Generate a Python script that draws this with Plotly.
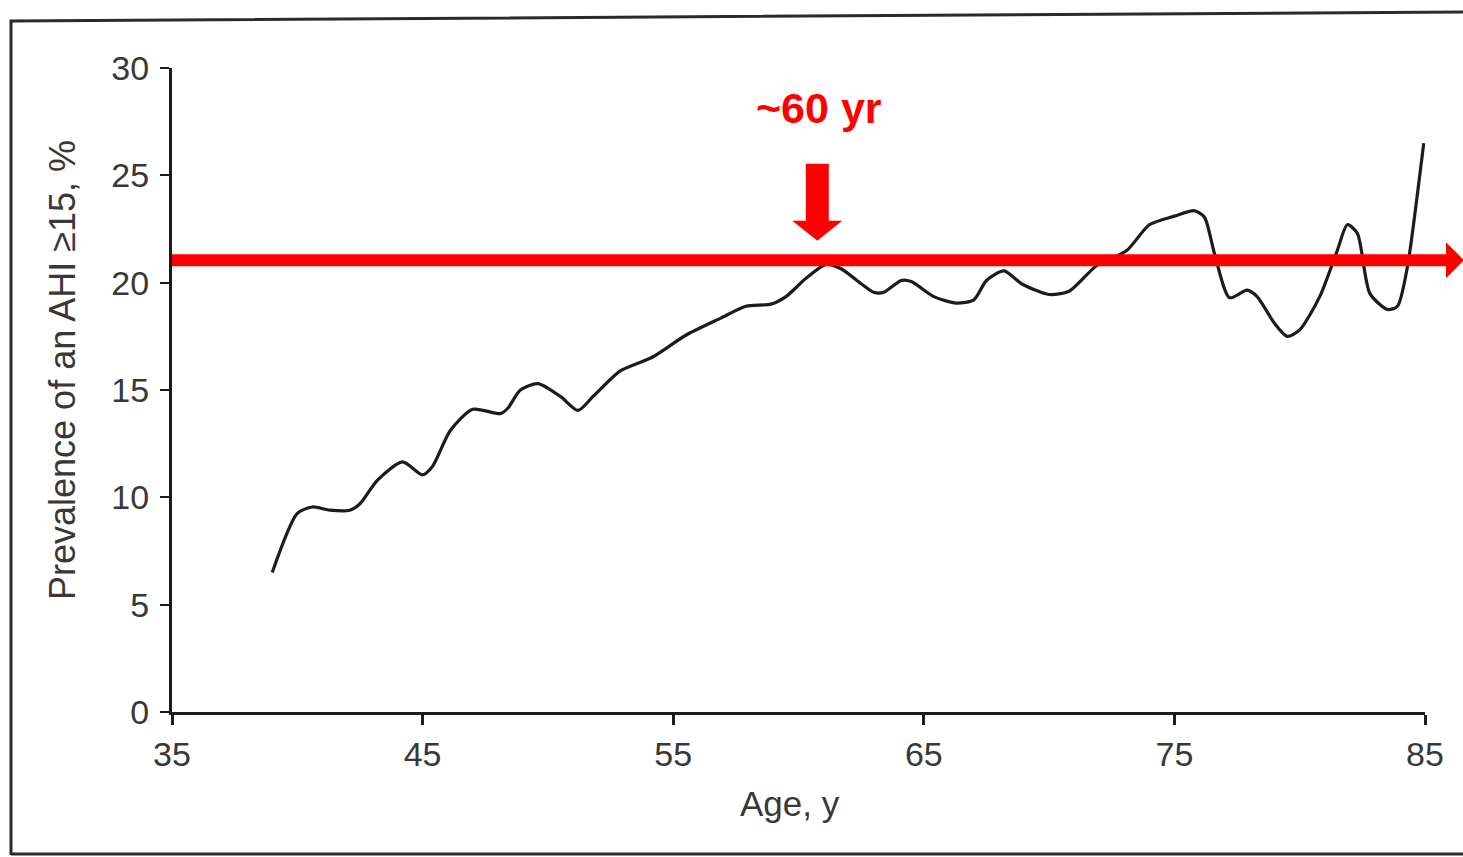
import plotly.graph_objects as go

# ---- data ----
age = [39.0, 40.0, 40.6, 41.3, 42.1, 42.5, 43.2, 44.2, 45.0, 45.4, 46.1, 47.0,
       48.1, 48.4, 48.9, 49.6, 50.5, 51.2, 51.8, 52.5, 52.9, 54.2, 55.5, 56.9,
       57.9, 58.9, 59.5, 60.3, 61.1, 61.7, 62.5, 63.0, 63.4, 64.1, 64.5, 65.4,
       66.3, 67.0, 67.5, 68.2, 68.9, 70.0, 70.8, 71.9, 73.1, 74.0, 75.0, 75.8,
       76.2, 76.6, 77.2, 77.9, 78.3, 79.0, 79.5, 80.0, 80.8, 81.5, 81.9, 82.3,
       82.8, 83.5, 83.9, 84.3, 84.7, 84.95]
prevalence = [6.5, 9.25, 9.55, 9.4, 9.4, 9.7, 10.8, 11.65, 11.05, 11.45, 13.1, 14.1,
              13.9, 14.15, 15.0, 15.3, 14.7, 14.05, 14.7, 15.5, 15.9, 16.55, 17.55, 18.35,
              18.9, 19.0, 19.35, 20.2, 20.85, 20.65, 19.95, 19.55, 19.55, 20.1, 20.05, 19.35,
              19.05, 19.2, 20.1, 20.55, 19.95, 19.45, 19.6, 20.8, 21.5, 22.7, 23.1, 23.35,
              23.05, 21.35, 19.3, 19.65, 19.35, 18.1, 17.5, 17.8, 19.35, 21.5, 22.7, 22.3,
              19.5, 18.75, 18.9, 20.75, 24.15, 26.5]
x_ticks = [35, 45, 55, 65, 75, 85]
y_ticks = [0, 5, 10, 15, 20, 25, 30]
threshold = 21.05
peak_age = 60.75
annotation_text = "~60 yr"
x_title = "Age, y"
y_title = "Prevalence of an AHI ≥15, %"

FONT = "Liberation Sans Narrow, Arial Narrow, Liberation Sans, Arial"
TXT = "#383838"
RED = "#ff0000"

fig = go.Figure()
fig.add_trace(go.Scatter(x=age, y=prevalence, mode="lines",
                         line=dict(color="#1c1c1c", width=3.2, shape="spline", smoothing=0.7),
                         hoverinfo="skip", showlegend=False))

W, H = 1463, 857
L, R, T, B = 172, 38, 68, 145
pw, ph = W - L - R, H - T - B

def px2paper_x(px):
    return (px - L) / pw

def py2paper_y(py):
    return (H - B - py) / ph

shapes = []
# outer scanned frame
shapes.append(dict(type="path", xref="paper", yref="paper",
                   path=(f"M {px2paper_x(11)},{py2paper_y(855)} L {px2paper_x(11)},{py2paper_y(21)} "
                         f"L {px2paper_x(1470)},{py2paper_y(12)}"),
                   line=dict(color="#2a2a2a", width=3)))
shapes.append(dict(type="line", xref="paper", yref="paper",
                   x0=px2paper_x(11), x1=px2paper_x(1470), y0=py2paper_y(854), y1=py2paper_y(854),
                   line=dict(color="#2a2a2a", width=3)))

# horizontal red threshold line with arrow head
half = 6 / (ph / 30)
head = 18 / (ph / 30)
xb = px2paper_x(1446)
xt = px2paper_x(1464)
shapes.append(dict(type="path", xref="paper", yref="y",
                   path=(f"M 0,{threshold - half} L {xb},{threshold - half} L {xb},{threshold - head} "
                         f"L {xt},{threshold} L {xb},{threshold + head} L {xb},{threshold + half} "
                         f"L 0,{threshold + half} Z"),
                   fillcolor=RED, line=dict(width=0), layer="above"))

# downward red arrow
upx = pw / 50
upy = ph / 30
sw = 11.5 / upx
hw = 25 / upx
tip = threshold + 0.9
hb = tip + 20 / upy
top = tip + 77 / upy
shapes.append(dict(type="path", xref="x", yref="y",
                   path=(f"M {peak_age - sw},{top} L {peak_age + sw},{top} L {peak_age + sw},{hb} "
                         f"L {peak_age + hw},{hb} L {peak_age},{tip} L {peak_age - hw},{hb} "
                         f"L {peak_age - sw},{hb} Z"),
                   fillcolor=RED, line=dict(width=0), layer="above"))

annotations = [
    dict(text="<b>" + annotation_text + "</b>", x=peak_age + 0.05, y=py2paper_y(108),
         xref="x", yref="paper", showarrow=False,
         font=dict(family="Liberation Sans, Arial", size=43, color=RED),
         xanchor="center", yanchor="middle"),
    dict(text=x_title, x=px2paper_x(790), y=py2paper_y(803), xref="paper", yref="paper",
         showarrow=False, font=dict(family=FONT, size=35, color=TXT),
         xanchor="center", yanchor="middle"),
    dict(text=y_title, x=px2paper_x(62), y=py2paper_y(370), xref="paper", yref="paper",
         showarrow=False, textangle=-90, font=dict(family=FONT, size=36, color=TXT),
         xanchor="center", yanchor="middle"),
]

fig.update_layout(
    width=W, height=H,
    margin=dict(l=L, r=R, t=T, b=B, autoexpand=False),
    paper_bgcolor="white", plot_bgcolor="white",
    shapes=shapes, annotations=annotations,
    xaxis=dict(range=[35, 85], tickvals=x_ticks, ticktext=[str(v) for v in x_ticks],
               showgrid=False, zeroline=False, showline=True, linecolor="#1c1c1c", linewidth=3,
               ticks="outside", ticklen=10, tickwidth=3, tickcolor="#1c1c1c",
               tickfont=dict(family=FONT, size=34, color=TXT), ticklabelstandoff=0),
    yaxis=dict(range=[0, 30], tickvals=y_ticks, ticktext=[str(v) for v in y_ticks],
               showgrid=False, zeroline=False, showline=True, linecolor="#1c1c1c", linewidth=3,
               ticks="outside", ticklen=9, tickwidth=2, tickcolor="#1c1c1c",
               tickfont=dict(family=FONT, size=34, color=TXT), ticklabelstandoff=4),
)

fig.write_html("out.html")
